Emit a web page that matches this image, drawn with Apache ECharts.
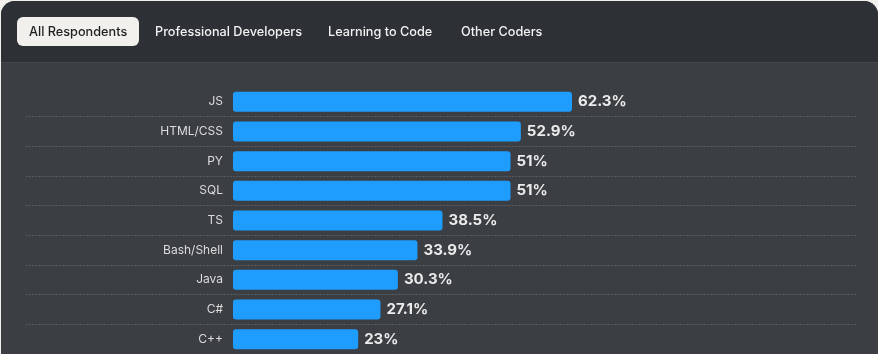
<!DOCTYPE html>
<html>
<head>
<meta charset="utf-8">
<script src="https://cdn.jsdelivr.net/npm/echarts@6/dist/echarts.min.js"></script>
<style>
html,body{margin:0;padding:0;background:#f1f0ec;}
#chart{width:878px;height:354px;}
</style>
</head>
<body>
<div id="chart"></div>
<script>
const categories = ['JS', 'HTML/CSS', 'PY', 'SQL', 'TS', 'Bash/Shell', 'Java', 'C#', 'C++'];
const values = [62.3, 52.9, 51, 51, 38.5, 33.9, 30.3, 27.1, 23];
const tabs = ['All Respondents', 'Professional Developers', 'Learning to Code', 'Other Coders'];
const tabX = [29, 155, 328, 461];

const FONT = 'Inter, "Liberation Sans", Arial, sans-serif';
const chart = echarts.init(document.getElementById('chart'), null, {renderer: 'canvas'});

const graphics = [
  {type: 'rect', z: -10, shape: {x: 1, y: 1, width: 877, height: 400, r: [14, 14, 0, 0]}, style: {fill: '#3b3f43'}, silent: true},
  {type: 'rect', z: -9, shape: {x: 1, y: 1, width: 877, height: 61, r: [14, 14, 0, 0]}, style: {fill: '#2d3034'}, silent: true},
  {type: 'rect', z: -9, shape: {x: 1, y: 62, width: 877, height: 1}, style: {fill: '#43474b'}, silent: true},
  {type: 'rect', z: -8, shape: {x: 17, y: 17, width: 122, height: 29, r: 6}, style: {fill: '#f1f0ec'}, silent: true}
];
tabs.forEach((t, i) => {
  graphics.push({
    type: 'text', z: -7, x: tabX[i], y: 32,
    style: {text: t, fill: i === 0 ? '#1e1f21' : '#f2f2f2', font: '500 12.7px ' + FONT, textVerticalAlign: 'middle', textAlign: 'left'},
    silent: true
  });
});

chart.setOption({
  backgroundColor: '#f1f0ec',
  animation: false,
  graphic: graphics,
  grid: {left: 26, right: 22, top: 87, height: 270, containLabel: false},
  xAxis: {type: 'value', min: -38.04, max: 114.49, show: false},
  yAxis: {
    type: 'category',
    data: categories,
    inverse: true,
    offset: -207,
    axisLine: {show: false},
    axisTick: {show: false},
    axisLabel: {color: '#dcdcdc', fontSize: 12, fontFamily: FONT, margin: 10},
    splitLine: {show: true, showMinLine: false, lineStyle: {color: '#575b5f', type: [2, 1], width: 1}}
  },
  series: [{
    type: 'bar',
    data: values,
    barWidth: 20,
    itemStyle: {color: '#1f9dff', borderRadius: 3},
    label: {
      show: true, position: 'right', distance: 6,
      formatter: '{c}%', color: '#ebebeb', fontSize: 15, fontWeight: 'bold', fontFamily: FONT
    }
  }]
});
</script>
</body>
</html>
